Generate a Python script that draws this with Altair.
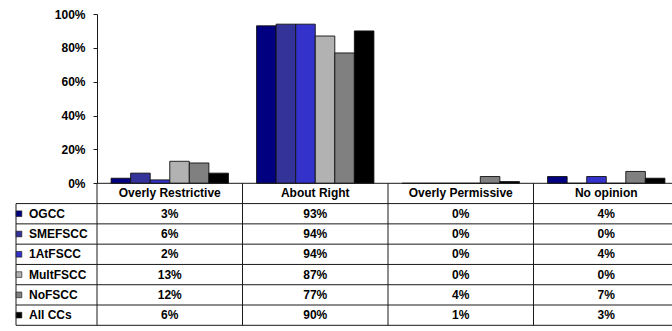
import altair as alt
import pandas as pd

categories = ["Overly Restrictive", "About Right", "Overly Permissive", "No opinion"]
series = ["OGCC", "SMEFSCC", "1AtFSCC", "MultFSCC", "NoFSCC", "All CCs"]
colors = ["#000080", "#333399", "#3333CC", "#B2B2B2", "#808080", "#000000"]

ogcc = [0.03, 0.93, 0.00, 0.04]
smefscc = [0.06, 0.94, 0.00, 0.00]
atfscc = [0.02, 0.94, 0.00, 0.04]
multfscc = [0.13, 0.87, 0.00, 0.00]
nofscc = [0.12, 0.77, 0.04, 0.07]
allccs = [0.06, 0.90, 0.01, 0.03]

y_ticks = [0, 0.2, 0.4, 0.6, 0.8, 1.0]

values = [ogcc, smefscc, atfscc, multfscc, nofscc, allccs]
rows_long = []
for s, vals in zip(series, values):
    for c, v in zip(categories, vals):
        rows_long.append({"category": c, "series": s, "value": v})
df = pd.DataFrame(rows_long)

row_names = ["header"] + series
df_rows = pd.DataFrame({"row": row_names})
df_cats = pd.DataFrame({"category": categories})
df_series = pd.DataFrame({"series": series})
df_top = pd.DataFrame({"row": ["header"]})

FONT = "Liberation Sans"
FS = 12
LINE = "#1a1a1a"

xscale = alt.Scale(type="band", domain=categories, range=[0, 582], paddingInner=0, paddingOuter=0)
rowscale = alt.Scale(type="band", domain=row_names, range=[169.3, 311.3], paddingInner=0, paddingOuter=0)
colorscale = alt.Scale(domain=series, range=colors)

bars = alt.Chart(df).mark_bar(stroke="#111111", strokeWidth=0.9).encode(
    x=alt.X("category:N", scale=xscale, axis=None, sort=categories),
    xOffset=alt.XOffset("series:N", sort=series,
                        scale=alt.Scale(domain=series, paddingInner=0, paddingOuter=0.72)),
    y=alt.Y("value:Q", scale=alt.Scale(domain=[0, 1], range=[169.3, 0], zero=True, nice=False),
            axis=alt.Axis(values=y_ticks, format=".0%", title=None, grid=False,
                          labelFont=FONT, labelFontSize=FS, labelFontWeight="bold",
                          labelColor="black", tickSize=4, tickColor=LINE,
                          domainColor=LINE, labelPadding=8)),
    color=alt.Color("series:N", scale=colorscale, legend=None),
)

# baseline / top of the data table
baseline = alt.Chart(df_top).mark_rule(color=LINE, strokeWidth=1).encode(
    y=alt.Y("row:N", scale=rowscale, axis=None, bandPosition=0),
    x=alt.value(0),
    x2=alt.value(582),
)

# horizontal row lines of the table
hlines = alt.Chart(df_rows).mark_rule(color=LINE, strokeWidth=1).encode(
    y=alt.Y("row:N", scale=rowscale, axis=None, bandPosition=1),
    x=alt.value(-81),
    x2=alt.value(582),
)

# vertical column lines
vlines = alt.Chart(df_cats).mark_rule(color=LINE, strokeWidth=1).encode(
    x=alt.X("category:N", scale=xscale, axis=None, bandPosition=0),
    y=alt.value(169.3),
    y2=alt.value(311.3),
)

left_border = alt.Chart(df_top).mark_rule(color=LINE, strokeWidth=1).encode(
    x=alt.value(-81),
    y=alt.value(189.6),
    y2=alt.value(311.3),
)

header_text = alt.Chart(df_cats).mark_text(
    font=FONT, fontSize=FS, fontWeight="bold", color="black", baseline="middle"
).encode(
    x=alt.X("category:N", scale=xscale, axis=None),
    y=alt.Y("row:N", scale=rowscale, axis=None),
    text="category:N",
).transform_calculate(row="'header'")

cell_text = alt.Chart(df).mark_text(
    font=FONT, fontSize=FS, fontWeight="bold", color="black", baseline="middle"
).encode(
    x=alt.X("category:N", scale=xscale, axis=None),
    y=alt.Y("series:N", scale=rowscale, axis=None),
    text=alt.Text("value:Q", format=".0%"),
)

row_labels = alt.Chart(df_series).mark_text(
    font=FONT, fontSize=FS, fontWeight="bold", color="black", align="left", baseline="middle"
).encode(
    x=alt.value(-68),
    y=alt.Y("series:N", scale=rowscale, axis=None),
    text="series:N",
)

row_keys = alt.Chart(df_series).mark_point(
    shape="square", filled=True, size=32, stroke="#111111", strokeWidth=0.6, opacity=1
).encode(
    x=alt.value(-78),
    y=alt.Y("series:N", scale=rowscale, axis=None),
    fill=alt.Fill("series:N", scale=colorscale, legend=None),
)

table = alt.layer(baseline, hlines, vlines, left_border, header_text, cell_text, row_labels, row_keys)

chart = alt.layer(bars, table).resolve_scale(y="independent").properties(
    width=575,
    height=311,
    autosize=alt.AutoSizeParams(type="none"),
    padding={"left": 97, "top": 14, "right": 0, "bottom": 6},
    background="white",
).configure_view(stroke=None)

chart.save("out.html", embed_options={"renderer": "svg", "actions": False})
